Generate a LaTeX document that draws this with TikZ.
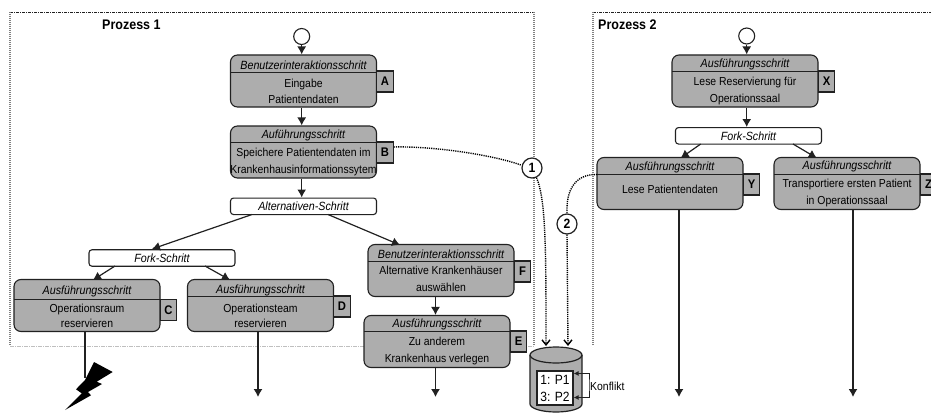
\documentclass[tikz,border=0pt]{standalone}
\usepackage{fontspec}
\setmainfont[FakeStretch=0.9]{Liberation Sans}
\usetikzlibrary{arrows.meta}
\definecolor{stepgray}{rgb}{0.680000, 0.680000, 0.680000}
\definecolor{linegray}{rgb}{0.130000, 0.130000, 0.130000}
\newlength{\du}
\setlength{\du}{1pt}
\tikzset{
  stepbox/.style={draw=linegray,fill=stepgray,line width=1.1\du,rounded corners=7\du,minimum width=146\du,minimum height=52\du,inner sep=0pt},
  splitbox/.style={draw=linegray,fill=white,line width=1.1\du,rounded corners=3\du,minimum width=146\du,minimum height=16.5\du,inner sep=0pt,font=\fontsize{11.9}{12}\selectfont\itshape},
  steptitle/.style={inner sep=0pt,font=\fontsize{11.9}{12}\selectfont\itshape},
  steptext/.style={inner sep=0pt,align=center,font=\fontsize{11.6}{16.5}\selectfont},
  steptag/.style={draw=linegray,fill=stepgray,line width=1.1\du,minimum width=16.5\du,minimum height=21\du,inner sep=0pt,font=\fontsize{12.5}{13}\selectfont\bfseries},
  startnode/.style={draw=linegray,fill=white,circle,line width=1.1\du,minimum size=16\du,inner sep=0pt},
  marknode/.style={draw=linegray,fill=white,circle,line width=1.2\du,minimum size=20\du,inner sep=0pt,font=\fontsize{13.5}{14}\selectfont\bfseries},
  dividerline/.style={draw=linegray,line width=0.9\du},
  flowline/.style={draw=linegray,line width=1.2\du,-{Latex[length=8pt,width=9pt]}},
  depline/.style={draw=black,line width=1.4\du,dash pattern=on 1.2\du off 1\du},
  deparrow/.style={depline,-{Straight Barb[length=5pt,width=8pt]}},
  konfliktline/.style={draw=linegray,line width=0.9\du,{Latex[length=5pt,width=5pt]}-{Latex[length=5pt,width=5pt]}},
  prozesstitle/.style={inner sep=0pt,font=\fontsize{13.9}{15}\selectfont\bfseries},
  frametop/.style={draw=linegray,line width=0.8\du,dash pattern=on 3\du off 1\du on 1\du off 1\du},
  frameside/.style={draw=gray,line width=1.4\du,dash pattern=on 1\du off 1\du},
  framebottom/.style={draw=lightgray,line width=0.9\du,dash pattern=on 4\du off 1\du on 1\du off 1\du}
}

\begin{document}
\begin{tikzpicture}
\pgftransformxscale{1.000000}
\pgftransformyscale{-1.000000}
\useasboundingbox (0\du,0\du) rectangle (931\du,412\du);
% process frames
\draw[frametop] (10\du,12\du)--(534\du,12\du);
\draw[frameside] (10\du,12\du)--(10\du,346\du);
\draw[frameside] (534\du,12\du)--(534\du,346\du);
\draw[framebottom] (10\du,346\du)--(534\du,346\du);
\draw[frametop] (593\du,12\du)--(931\du,12\du);
\draw[frameside] (593\du,12\du)--(593\du,346\du);
\node[prozesstitle,anchor=west] (titleP1) at (102\du,25\du){Prozess 1};
\node[prozesstitle,anchor=west] (titleP2) at (598\du,25\du){Prozess 2};
% Prozess 1
\node[startnode] (startP1) at (301.7\du,36.5\du){};
\node[stepbox] (stepA) at (303.5\du,81\du){};
\draw[dividerline] (230.5\du,72\du)--(376.5\du,72\du);
\node[steptitle] (titleA) at (303.5\du,65\du){Benutzerinteraktionsschritt};
\node[steptext] (textA) at (303.5\du,91.5\du){Eingabe\\Patientendaten};
\node[steptag] (tagA) at (385\du,81.5\du){A};
\node[stepbox] (stepB) at (303.5\du,152\du){};
\draw[dividerline] (230.5\du,142\du)--(376.5\du,142\du);
\node[steptitle] (titleB) at (303.5\du,135.5\du){Auführungsschritt};
\node[steptext] (textB) at (303.5\du,162\du){Speichere Patientendaten im\\Krankenhausinformationssytem};
\node[steptag] (tagB) at (385\du,152.5\du){B};
\node[splitbox] (splitAlt) at (303.5\du,206.3\du){Alternativen-Schritt};
\node[splitbox] (splitFork) at (162\du,258\du){Fork-Schritt};
\node[stepbox] (stepC) at (87\du,305.5\du){};
\draw[dividerline] (14\du,299\du)--(160\du,299\du);
\node[steptitle] (titleC) at (87\du,291\du){Ausführungsschritt};
\node[steptext] (textC) at (87\du,315.5\du){Operationsraum\\[-1.5pt]reservieren};
\node[steptag] (tagC) at (168.5\du,310\du){C};
\node[stepbox] (stepD) at (260.5\du,305.5\du){};
\draw[dividerline] (187.5\du,296\du)--(333.5\du,296\du);
\node[steptitle] (titleD) at (260.5\du,290\du){Ausführungsschritt};
\node[steptext] (textD) at (260.5\du,315.5\du){Operationsteam\\[-1.5pt]reservieren};
\node[steptag] (tagD) at (342\du,306.5\du){D};
\node[stepbox] (stepF) at (441\du,270.5\du){};
\draw[dividerline] (368\du,261\du)--(514\du,261\du);
\node[steptitle] (titleF) at (441\du,254\du){Benutzerinteraktionsschritt};
\node[steptext] (textF) at (441\du,279\du){Alternative Krankenhäuser\\auswählen};
\node[steptag] (tagF) at (522.5\du,271.5\du){F};
\node[stepbox] (stepE) at (437\du,341.5\du){};
\draw[dividerline] (364\du,331\du)--(510\du,331\du);
\node[steptitle] (titleE) at (437\du,324\du){Ausführungsschritt};
\node[steptext] (textE) at (437\du,351\du){Zu anderem\\Krankenhaus verlegen};
\node[steptag] (tagE) at (518.5\du,341.5\du){E};
% Prozess 2
\node[startnode] (startP2) at (746.7\du,36\du){};
\node[stepbox] (stepX) at (745\du,81\du){};
\draw[dividerline] (672\du,71\du)--(818\du,71\du);
\node[steptitle] (titleX) at (745\du,64\du){Ausführungsschritt};
\node[steptext] (textX) at (745\du,91\du){Lese Reservierung für\\Operationssaal};
\node[steptag] (tagX) at (826.5\du,81.5\du){X};
\node[splitbox] (splitFork2) at (748.5\du,135.8\du){Fork-Schritt};
\node[stepbox] (stepY) at (670\du,183.5\du){};
\draw[dividerline] (597\du,174\du)--(743\du,174\du);
\node[steptitle] (titleY) at (670\du,167\du){Ausführungsschritt};
\node[steptext] (textY) at (670\du,189\du){Lese Patientendaten};
\node[steptag] (tagY) at (751.5\du,184.5\du){Y};
\node[stepbox] (stepZ) at (847\du,183.5\du){};
\draw[dividerline] (774\du,174\du)--(920\du,174\du);
\node[steptitle] (titleZ) at (847\du,166.5\du){Ausführungsschritt};
\node[steptext] (textZ) at (847\du,193\du){Transportiere ersten Patient\\in Operationssaal};
\node[steptag] (tagZ) at (928.5\du,184.5\du){Z};
% Datenbank
\draw[draw=linegray,fill=stepgray,line width=1.2\du] (530\du,355\du)--(530\du,404\du) arc [start angle=180,end angle=0,x radius=26\du,y radius=8\du]--(582\du,355\du) arc [start angle=0,end angle=-180,x radius=26\du,y radius=8\du]--cycle;
\draw[draw=linegray,line width=1.2\du] (530\du,355\du) arc [start angle=180,end angle=0,x radius=26\du,y radius=8\du];
\node[draw=linegray,fill=white,line width=1.2\du,minimum width=36\du,minimum height=34\du,inner sep=0pt,align=center,font=\fontsize{13.4}{17}\selectfont] (store) at (555\du,388\du){1: P1\\3: P2};
\node[inner sep=0pt,anchor=west,font=\fontsize{11.6}{12}\selectfont] (labelKonflikt) at (590\du,386\du){Konflikt};
\node[marknode] (markOne) at (532\du,168\du){1};
\node[marknode] (markTwo) at (567\du,224\du){2};
% free ends
\coordinate (altLeft) at (252\du,214.5\du);
\coordinate (altRight) at (328\du,214.5\du);
\coordinate (forkIn) at (152\du,249\du);
\coordinate (stepFIn) at (400\du,245\du);
\coordinate (forkLeft) at (115\du,266\du);
\coordinate (forkRight) at (205\du,266\du);
\coordinate (stepCIn) at (93\du,280\du);
\coordinate (stepDIn) at (230\du,280\du);
\coordinate (forkTwoLeft) at (700.7\du,144\du);
\coordinate (forkTwoRight) at (793\du,144\du);
\coordinate (stepYIn) at (680.7\du,158\du);
\coordinate (stepZIn) at (816.7\du,158\du);
\coordinate (endBlitz) at (85\du,378\du);
\coordinate (endD) at (258\du,397\du);
\coordinate (endE) at (435.5\du,397\du);
\coordinate (endY) at (679\du,397\du);
\coordinate (endZ) at (853\du,397\du);
\coordinate (dbOne) at (546\du,346\du);
\coordinate (dbTwo) at (568\du,346\du);
\coordinate (dividerY) at (597\du,174.5\du);
\coordinate (konfliktTurn) at (589\du,385\du);
% flow
\draw[flowline] (startP1)--(stepA.north -| startP1);
\draw[flowline] (stepA.south -| startP1)--(stepB.north -| startP1);
\draw[flowline] (stepB.south -| startP1)--(splitAlt.north -| startP1);
\draw[flowline] (altLeft)--(forkIn);
\draw[flowline] (altRight)--(stepFIn);
\draw[flowline] (forkLeft)--(stepCIn);
\draw[flowline] (forkRight)--(stepDIn);
\draw[flowline] (stepF.south -| endE)--(stepE.north -| endE);
\draw[draw=linegray,line width=1.2\du] (stepC.south -| endBlitz)--(endBlitz);
\draw[flowline] (stepD.south -| endD)--(endD);
\draw[flowline] (stepE.south -| endE)--(endE);
\draw[flowline] (startP2)--(stepX.north -| startP2);
\draw[flowline] (stepX.south -| startP2)--(splitFork2.north -| startP2);
\draw[flowline] (forkTwoLeft)--(stepYIn);
\draw[flowline] (forkTwoRight)--(stepZIn);
\draw[flowline] (stepY.south -| endY)--(endY);
\draw[flowline] (stepZ.south -| endZ)--(endZ);
% dependencies
\draw[depline] (tagB.32) .. controls (430\du,146\du) and (490\du,154\du) .. (markOne.165);
\draw[deparrow] (markOne.-65) .. controls (546\du,200\du) and (546\du,250\du) .. (dbOne);
\draw[depline] (dividerY) .. controls (575\du,174\du) and (566\du,190\du) .. (markTwo.north);
\draw[deparrow] (markTwo.south)--(dbTwo);
% Konflikt
\draw[konfliktline] (store.38) -| (konfliktTurn) |- (store.-27);
% Blitz
\fill[black] (94\du,362\du)--(112.7\du,372\du)--(96.7\du,381.7\du)--(102\du,384\du)--(88\du,392\du)--(91\du,395.3\du)--(65\du,410\du)--(81.7\du,393.3\du)--(76\du,389.3\du)--(85\du,380\du)--cycle;
\end{tikzpicture}
\end{document}
